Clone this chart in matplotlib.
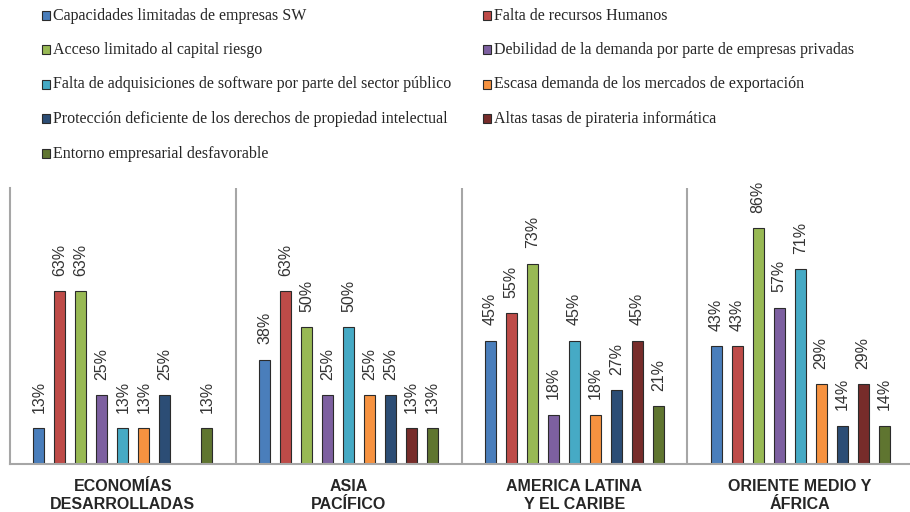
import matplotlib.pyplot as plt
from matplotlib.patches import Rectangle
import numpy as np

# regions (x axis groups)
regions = ["ECONOMÍAS\nDESARROLLADAS", "ASIA\nPACÍFICO", "AMERICA LATINA\nY EL CARIBE", "ORIENTE MEDIO Y\nÁFRICA"]

# obstacles (one bar per region)
series = [
	"Capacidades limitadas de empresas SW",
	"Falta de recursos Humanos",
	"Acceso limitado al capital riesgo",
	"Debilidad de la demanda por parte de empresas privadas",
	"Falta de adquisiciones de software por parte del sector público",
	"Escasa demanda de los mercados de exportación",
	"Protección deficiente de los derechos de propiedad intelectual",
	"Altas tasas de pirateria informática",
	"Entorno empresarial desfavorable",
]
colors = ["#4A7EBB", "#BE4B48", "#98B954", "#7D60A0", "#46AAC5",
	"#F69240", "#2C4D75", "#772C2A", "#5F7530"]

# percentages, rows = series, columns = regions (nan = no answer)
values = [
	[13, 38, 45, 43],
	[63, 63, 55, 43],
	[63, 50, 73, 86],
	[25, 25, 18, 57],
	[13, 50, 45, 71],
	[13, 25, 18, 29],
	[25, 25, 27, 14],
	[np.nan, 13, 45, 29],
	[13, 13, 21, 14],
]

W, H = 910, 512
fig = plt.figure(figsize=(W/100, H/100), dpi=100)
ax = fig.add_axes([10/W, (H-464)/H, 903/W, 276/H])

x = np.arange(len(regions))
step = 21/225.75
width = 11/225.75
for i, (name, vals) in enumerate(zip(series, values)):
	pos = x + (i - 4)*step
	ax.bar(pos, vals, width, color=colors[i], edgecolor="#2b2b2b", linewidth=0.8)
	for px, v in zip(pos, vals):
		if np.isnan(v):
			continue
		ax.annotate("%d%%" % v, (px, v), xytext=(0, 11), textcoords="offset points",
			rotation=90, ha="center", va="bottom", fontsize=11.5,
			family="Liberation Sans", color="#333333")

ax.set_xlim(-0.5, len(regions) - 0.5)
ax.set_ylim(0, 100.6)
for s in ["top", "right"]:
	ax.spines[s].set_visible(False)
for s in ["left", "bottom"]:
	ax.spines[s].set_color("#a6a6a6")
	ax.spines[s].set_linewidth(1.5)
for b in x[1:] - 0.5:
	ax.axvline(b, color="#a6a6a6", linewidth=1.5)
ax.set_yticks([])
ax.set_xticks([])

# group labels under the axis
for xi, lab in zip(x, regions):
	ax.annotate(lab, (xi, 0), xytext=(0, -11), textcoords="offset points",
		ha="center", va="top", fontsize=11.5, fontweight="bold",
		family="Liberation Sans", color="#262626", linespacing=1.2)

# legend in two columns, filled row by row
for i, name in enumerate(series):
	row, col = i // 2, i % 2
	lx = [42, 483][col]
	ly = 15 + row*34.5
	fig.patches.append(Rectangle((lx/W, 1 - (ly + 4.5)/H), 8/W, 9/H,
		transform=fig.transFigure, facecolor=colors[i], edgecolor="#2b2b2b", linewidth=0.8))
	fig.text((lx + 11)/W, 1 - (ly + 0.5)/H, name, ha="left", va="center",
		fontsize=11.5, family="Liberation Serif", color="#262626")

fig.savefig("out.png", dpi=100)
